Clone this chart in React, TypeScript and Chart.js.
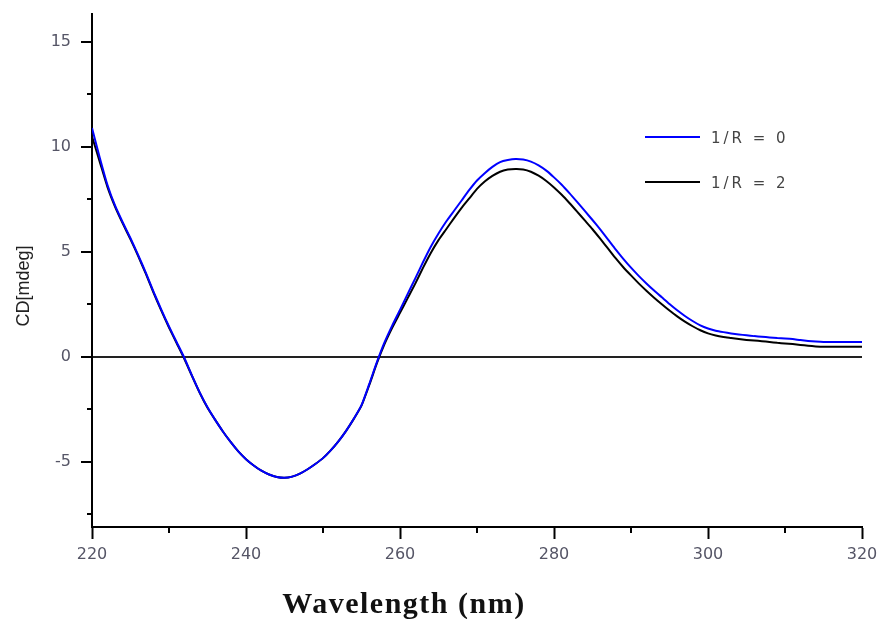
import React, { useEffect, useRef } from "react";
import { Chart, registerables } from "chart.js";

Chart.register(...registerables);

const wavelengths = [
  220, 221, 222, 223, 224, 225, 226, 227, 228, 229,
  230, 231, 232, 233, 234, 235, 236, 237, 238, 239,
  240, 241, 242, 243, 244, 245, 246, 247, 248, 249,
  250, 251, 252, 253, 254, 255, 256, 257, 258, 259,
  260, 261, 262, 263, 264, 265, 266, 267, 268, 269,
  270, 271, 272, 273, 274, 275, 276, 277, 278, 279,
  280, 281, 282, 283, 284, 285, 286, 287, 288, 289,
  290, 291, 292, 293, 294, 295, 296, 297, 298, 299,
  300, 301, 302, 303, 304, 305, 306, 307, 308, 309,
  310, 311, 312, 313, 314, 315, 316, 317, 318, 319, 320,
];

const seriesR0 = [
  10.9, 9.5, 8.2, 7.2, 6.4, 5.65, 4.85, 4.0, 3.1, 2.25,
  1.45, 0.7, -0.05, -0.9, -1.7, -2.4, -3.0, -3.55, -4.05, -4.5,
  -4.87, -5.17, -5.42, -5.6, -5.72, -5.76, -5.7, -5.56, -5.35, -5.1,
  -4.82, -4.45, -4.02, -3.52, -2.95, -2.3, -1.3, -0.25, 0.7, 1.5,
  2.24, 3.0, 3.75, 4.52, 5.25, 5.88, 6.45, 6.95, 7.45, 7.95,
  8.4, 8.75, 9.05, 9.28, 9.38, 9.43, 9.4, 9.3, 9.12, 8.87,
  8.55, 8.2, 7.8, 7.38, 6.95, 6.52, 6.07, 5.6, 5.12, 4.67,
  4.25, 3.86, 3.5, 3.16, 2.84, 2.52, 2.22, 1.95, 1.71, 1.5,
  1.35, 1.25, 1.18, 1.12, 1.07, 1.03, 0.99, 0.96, 0.93, 0.9,
  0.88, 0.85, 0.8, 0.76, 0.73, 0.71, 0.71, 0.71, 0.71, 0.71, 0.71,
];

const seriesR2 = [
  10.5, 9.3, 8.1, 7.15, 6.35, 5.6, 4.8, 3.95, 3.05, 2.2,
  1.4, 0.65, -0.1, -0.92, -1.72, -2.42, -3.0, -3.55, -4.05, -4.5,
  -4.87, -5.17, -5.42, -5.6, -5.72, -5.76, -5.7, -5.56, -5.35, -5.1,
  -4.82, -4.45, -4.02, -3.52, -2.95, -2.32, -1.35, -0.3, 0.62, 1.4,
  2.1, 2.8, 3.5, 4.25, 4.95, 5.56, 6.08, 6.6, 7.1, 7.55,
  8.0, 8.35, 8.62, 8.82, 8.92, 8.95, 8.93, 8.82, 8.63, 8.38,
  8.07, 7.72, 7.33, 6.92, 6.5, 6.08, 5.63, 5.17, 4.7, 4.27,
  3.88, 3.5, 3.15, 2.82, 2.51, 2.21, 1.93, 1.68, 1.46, 1.27,
  1.12, 1.02, 0.95, 0.9, 0.85, 0.81, 0.78, 0.75, 0.71, 0.67,
  0.64, 0.61, 0.57, 0.53, 0.5, 0.48, 0.48, 0.48, 0.48, 0.48, 0.48,
];

const seriesLabels = ["1/R = 0", "1/R = 2"];
const seriesColors = ["#0000ff", "#000000"];

const xTicks = [220, 240, 260, 280, 300, 320];
const xMinorTicks = [230, 250, 270, 290, 310];
const yTicks = [-5, 0, 5, 10, 15];
const yMinorTicks = [-7.5, -2.5, 2.5, 7.5, 12.5];

const xTitle = "Wavelength (nm)";
const yTitle = "CD[mdeg]";

const tickFont = "'DejaVu Sans', 'Liberation Sans', Arial, sans-serif";

const decorPlugin = {
  id: "decor",
  afterDraw(chart: any) {
    const ctx = chart.ctx;
    const xs = chart.scales.x;
    const ys = chart.scales.y;
    const area = chart.chartArea;
    ctx.save();
    // minor ticks
    ctx.strokeStyle = "#000";
    ctx.lineWidth = 2;
    ctx.beginPath();
    xMinorTicks.forEach((v) => {
      const px = Math.round(xs.getPixelForValue(v));
      ctx.moveTo(px, area.bottom);
      ctx.lineTo(px, area.bottom + 6);
    });
    yMinorTicks.forEach((v) => {
      const py = Math.round(ys.getPixelForValue(v));
      ctx.moveTo(area.left, py);
      ctx.lineTo(area.left - 5, py);
    });
    ctx.stroke();

    // x title
    ctx.fillStyle = "#111";
    ctx.font = "bold 30px 'Liberation Serif', 'Times New Roman', serif";
    ctx.textAlign = "center";
    ctx.textBaseline = "alphabetic";
    (ctx as any).letterSpacing = "1.5px";
    ctx.fillText(xTitle, 404, 613);
    (ctx as any).letterSpacing = "0px";

    // y title
    ctx.save();
    ctx.translate(24, 286);
    ctx.rotate(-Math.PI / 2);
    ctx.font = "18px 'Liberation Sans', Arial, sans-serif";
    ctx.fillStyle = "#222";
    ctx.textAlign = "center";
    ctx.textBaseline = "middle";
    ctx.fillText(yTitle, 0, 0);
    ctx.restore();

    // legend
    const legendRows = [137, 182];
    chart.data.datasets.forEach((ds: any, i: number) => {
      if (i >= legendRows.length) return;
      const y = legendRows[i];
      ctx.strokeStyle = ds.borderColor;
      ctx.lineWidth = 2;
      ctx.beginPath();
      ctx.moveTo(645, y);
      ctx.lineTo(700, y);
      ctx.stroke();
      ctx.fillStyle = "#444";
      ctx.font = "15px " + tickFont;
      ctx.textAlign = "left";
      ctx.textBaseline = "middle";
      (ctx as any).letterSpacing = "3px";
      ctx.fillText(ds.label, 711, y + 2);
      (ctx as any).letterSpacing = "0px";
    });
    ctx.restore();
  },
};

export default function App() {
  const ref = useRef<HTMLCanvasElement | null>(null);
  useEffect(() => {
    if (!ref.current) return;
    const mk = (vals: number[]) => wavelengths.map((w, i) => ({ x: w, y: vals[i] }));
    const chart = new Chart(ref.current, {
      type: "line",
      data: {
        datasets: [
          {
            label: seriesLabels[0],
            data: mk(seriesR0),
            borderColor: seriesColors[0],
            borderWidth: 2,
            pointRadius: 0,
            tension: 0.2,
            fill: false,
          },
          {
            label: seriesLabels[1],
            data: mk(seriesR2),
            borderColor: seriesColors[1],
            borderWidth: 2,
            pointRadius: 0,
            tension: 0.2,
            fill: false,
          },
        ],
      },
      options: {
        animation: false,
        responsive: false,
        maintainAspectRatio: false,
        layout: { padding: { top: 14, right: 15, left: 0, bottom: 0 } },
        plugins: { legend: { display: false }, tooltip: { enabled: false } },
        scales: {
          x: {
            type: "linear",
            min: 220,
            max: 320,
            afterBuildTicks: (s: any) => {
              s.ticks = xTicks.map((v) => ({ value: v }));
            },
            afterFit: (s: any) => {
              s.height = 92;
              s.paddingRight = 0;
            },
            border: { display: true, color: "#000", width: 2 },
            grid: {
              drawOnChartArea: false,
              drawTicks: true,
              tickLength: 12,
              tickColor: "#000",
              tickWidth: 2,
            },
            ticks: {
              color: "#555566",
              padding: 6,
              maxRotation: 0,
              autoSkip: false,
              font: { family: tickFont, size: 16 },
            },
          },
          y: {
            type: "linear",
            min: -8.1,
            max: 16.33,
            afterBuildTicks: (s: any) => {
              s.ticks = yTicks.map((v) => ({ value: v }));
            },
            afterFit: (s: any) => {
              s.width = 92;
              s.paddingTop = 0;
              s.paddingBottom = 0;
            },
            border: { display: true, color: "#000", width: 2 },
            grid: {
              drawOnChartArea: true,
              color: (c: any) => (c.tick && c.tick.value === 0 ? "#222" : "rgba(0,0,0,0)"),
              lineWidth: 2,
              drawTicks: true,
              tickLength: 11,
              tickColor: "#000",
              tickWidth: 2,
            },
            ticks: {
              color: "#555566",
              padding: 10,
              autoSkip: false,
              font: { family: tickFont, size: 16 },
            },
          },
        },
      },
      plugins: [decorPlugin],
    });
    return () => chart.destroy();
  }, []);
  return (
    <div style={{ position: "absolute", left: 0, top: 0, width: 877, height: 619, background: "#fff" }}>
      <canvas ref={ref} width={877} height={619} style={{ width: 877, height: 619 }} />
    </div>
  );
}
